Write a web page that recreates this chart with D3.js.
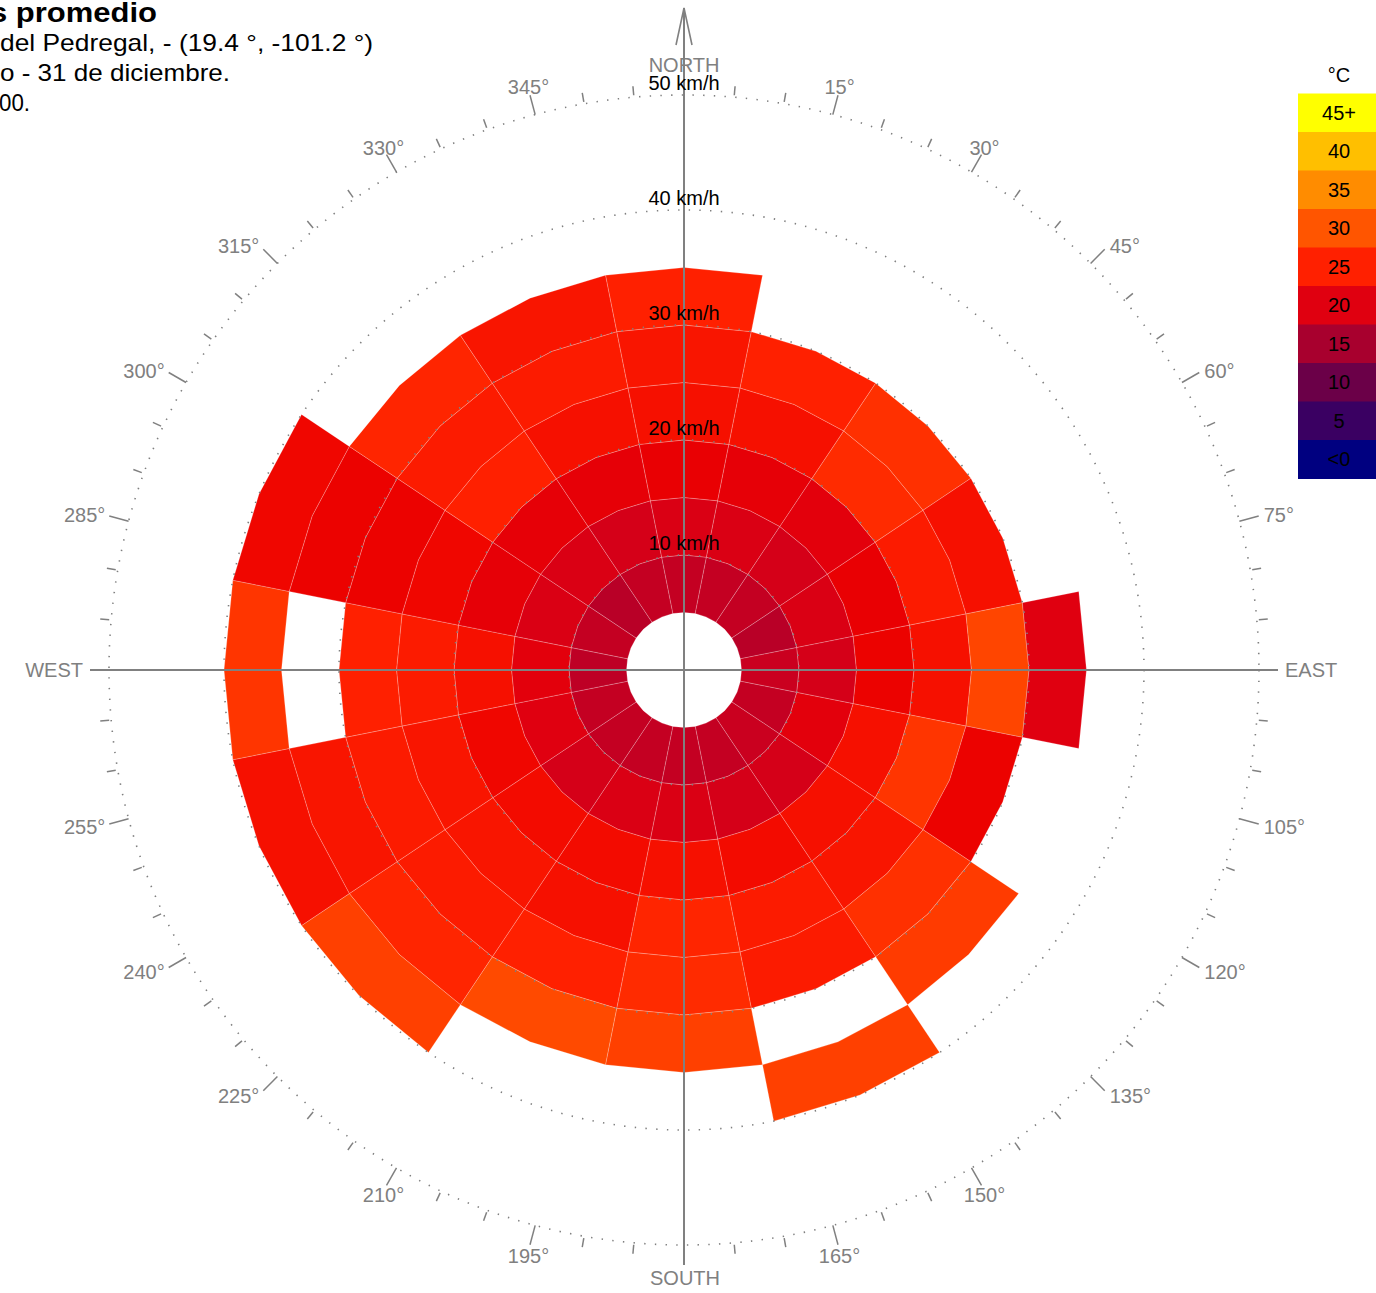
<!DOCTYPE html>
<html><head><meta charset="utf-8">
<script src="https://cdn.jsdelivr.net/npm/d3@7"></script>
<style>
body{margin:0;background:#fff;}
svg{display:block;font-family:"Liberation Sans",Arial,Helvetica,sans-serif;}
</style>
</head><body>
<svg id="chart" width="1376" height="1293"></svg>
<script>
// ---------- data ----------
const directions = ["N","NNE","NE","ENE","E","ESE","SE","SSE","S","SSW","SW","WSW","W","WNW","NW","NNW"];
const speedBinLow = [5, 10, 15, 20, 25, 30, 35];           // km/h, each bin is 5 km/h wide
// mean temperature (°C) per speed bin, one value per direction (N ... NNW); null = no data
const temp5_10  = [17.5,17.5,17.5,16.5,18,17.5,18,17.5,17.5,17.5,17.5,17.5,17,17.5,16.5,17.5];
const temp10_15 = [19.5,19.5,19,19.5,19,20.5,19,19,19.5,19.5,19,20,20.5,19.5,19.5,19];
const temp15_20 = [21.5,21,20.5,21.5,22,23.5,23.5,23,23.5,23,23,22.5,23.5,21,21,21];
const temp20_25 = [23.5,23.5,26,24.5,23.5,27,24,24.5,25.5,23.5,24,24,24.5,22.5,25,23.5];
const temp25_30 = [24,25,26.5,23.5,28.5,22,26.5,24.5,26,25,24.5,24.5,25,22,24.5,24.5];
const temp30_35 = [25,null,null,null,20,null,27.5,null,28,29,25.5,24,null,22,25.5,24];
const temp35_40 = [null,null,null,null,null,null,null,28,null,null,28,23.5,27,22.5,null,null];
const tempBins = [temp5_10,temp10_15,temp15_20,temp20_25,temp25_30,temp30_35,temp35_40];

const ringSpeeds = [10, 20, 30, 40, 50];
const legendLabels = ["<0","5","10","15","20","25","30","35","40","45+"];
const legendValues = [0,5,10,15,20,25,30,35,40,45];
const legendColors = ["#000080","#3a0062","#6b0048","#a8002e","#e00010","#ff2000","#ff5500","#ff8c00","#ffbf00","#ffff00"];
const titleLines = ["s promedio","del Pedregal, - (19.4 °, -101.2 °)","o - 31 de diciembre.","00."];

// ---------- setup ----------
const svg = d3.select("#chart");
const cx = 684, cy = 670;
const r = d3.scaleLinear().domain([0, 50]).range([0, 575]);
const color = d3.scaleLinear().domain(legendValues).range(legendColors)
  .interpolate(d3.interpolateHsl).clamp(true);
const rad = d3.scaleLinear().domain([0, 360]).range([0, 2*Math.PI]);
const half = rad(360/directions.length/2);

const g = svg.append("g").attr("transform", `translate(${cx},${cy})`);

// cells
const cells = [];
tempBins.forEach((arr, bi) => {
  arr.forEach((t, di) => {
    if (t === null) return;
    cells.push({dir: di, low: speedBinLow[bi], high: speedBinLow[bi] + 5, t});
  });
});
const cellLine = d3.lineRadial().angle(d => d[0]).radius(d => d[1]).curve(d3.curveLinearClosed);
g.append("g").selectAll("path").data(cells).join("path")
  .attr("d", d => {
    const a = rad(d.dir * 360/directions.length);
    const r0 = r(d.low), r1 = r(d.high);
    return cellLine([[a-half,r0],[a,r0],[a+half,r0],[a+half,r1],[a,r1],[a-half,r1]]);
  })
  .attr("fill", d => color(d.t))
  .attr("stroke", "rgba(255,255,255,0.28)")
  .attr("stroke-width", 0.8);

// dotted rings
g.append("g").selectAll("circle").data(ringSpeeds).join("circle")
  .attr("r", d => r(d))
  .attr("fill", "none")
  .attr("stroke", "#7f7f7f")
  .attr("stroke-width", 1.6)
  .attr("stroke-dasharray", "1.4 9.3");

// axis lines
const axisCol = "#808080";
g.append("line").attr("x1", -594).attr("x2", 594).attr("y1", 0).attr("y2", 0)
  .attr("stroke", axisCol).attr("stroke-width", 2);
g.append("line").attr("x1", 0).attr("x2", 0).attr("y1", 595).attr("y2", 8 - cy)
  .attr("stroke", axisCol).attr("stroke-width", 2);
g.append("path").attr("d", `M${-8},${45-cy}L0,${8-cy}L8,${45-cy}`)
  .attr("fill", "none").attr("stroke", axisCol).attr("stroke-width", 1.6);

// degree ticks
const tickDeg = d3.range(5, 360, 5).filter(d => d % 90 !== 0);
g.append("g").selectAll("line").data(tickDeg).join("line")
  .each(function(d) {
    const a = rad(d), major = d % 15 === 0;
    const r0 = major ? 575 : 577, r1 = major ? 595 : 586;
    d3.select(this)
      .attr("x1", r0*Math.sin(a)).attr("y1", -r0*Math.cos(a))
      .attr("x2", r1*Math.sin(a)).attr("y2", -r1*Math.cos(a));
  })
  .attr("stroke", axisCol).attr("stroke-width", 1.5);

// degree labels
const labDeg = tickDeg.filter(d => d % 15 === 0);
g.append("g").selectAll("text").data(labDeg).join("text")
  .each(function(d) {
    const a = rad(d), s = Math.sin(a), c = Math.cos(a);
    const ex = 595*s, ey = -595*c;
    const t = d3.select(this).text(d + "°");
    if (Math.abs(s) < 0.6) {
      t.attr("x", ex + s*6).attr("y", ey - c*10 + 1.5).attr("text-anchor", "middle");
    } else {
      t.attr("x", ex + (s > 0 ? 5 : -4)).attr("y", ey - c*6 + 1)
       .attr("text-anchor", s > 0 ? "start" : "end");
    }
  })
  .attr("dy", "0.35em")
  .attr("font-size", 20).attr("fill", axisCol);

// cardinal labels
const card = [
  {t:"NORTH", x:0, y:72-cy, a:"middle"},
  {t:"SOUTH", x:1, y:1285-cy, a:"middle"},
  {t:"WEST", x:83-cx, y:7, a:"end"},
  {t:"EAST", x:1285-cx, y:7, a:"start"}
];
g.append("g").selectAll("text").data(card).join("text")
  .attr("x", d => d.x).attr("y", d => d.y).attr("text-anchor", d => d.a)
  .attr("font-size", 20).attr("fill", axisCol).text(d => d.t);

// speed labels
g.append("g").selectAll("text").data(ringSpeeds).join("text")
  .attr("x", 0).attr("y", d => -r(d) - 5)
  .attr("text-anchor", "middle").attr("font-size", 20).attr("fill", "#000")
  .text(d => d + " km/h");

// legend
const lg = svg.append("g").attr("transform", "translate(1298,93.5)");
const boxH = 38.5;
const order = d3.range(legendLabels.length).reverse();
lg.selectAll("rect").data(order).join("rect")
  .attr("x", 0).attr("y", (d,i) => i*boxH).attr("width", 82).attr("height", boxH + 0.5)
  .attr("fill", d => legendColors[d]);
lg.selectAll("text").data(order).join("text")
  .attr("x", 41).attr("y", (d,i) => i*boxH + boxH/2).attr("dy", "0.35em")
  .attr("text-anchor", "middle").attr("font-size", 20).attr("fill", "#000")
  .text(d => legendLabels[d]);
lg.append("text").attr("x", 41).attr("y", -12).attr("text-anchor", "middle")
  .attr("font-size", 20).attr("fill", "#000").text("°C");

// title
const tl = [
  {x:-10, y:22, len:167, size:27, w:"bold"},
  {x:0, y:51, len:373, size:24, w:"normal"},
  {x:0, y:81, len:230, size:24, w:"normal"},
  {x:-1, y:111, len:31, size:24, w:"normal"}
];
svg.append("g").selectAll("text").data(titleLines).join("text")
  .attr("x", (d,i) => tl[i].x).attr("y", (d,i) => tl[i].y)
  .attr("textLength", (d,i) => tl[i].len).attr("lengthAdjust", "spacingAndGlyphs")
  .attr("font-size", (d,i) => tl[i].size).attr("font-weight", (d,i) => tl[i].w)
  .attr("fill", "#000").text(d => d);
</script>
</body></html>
